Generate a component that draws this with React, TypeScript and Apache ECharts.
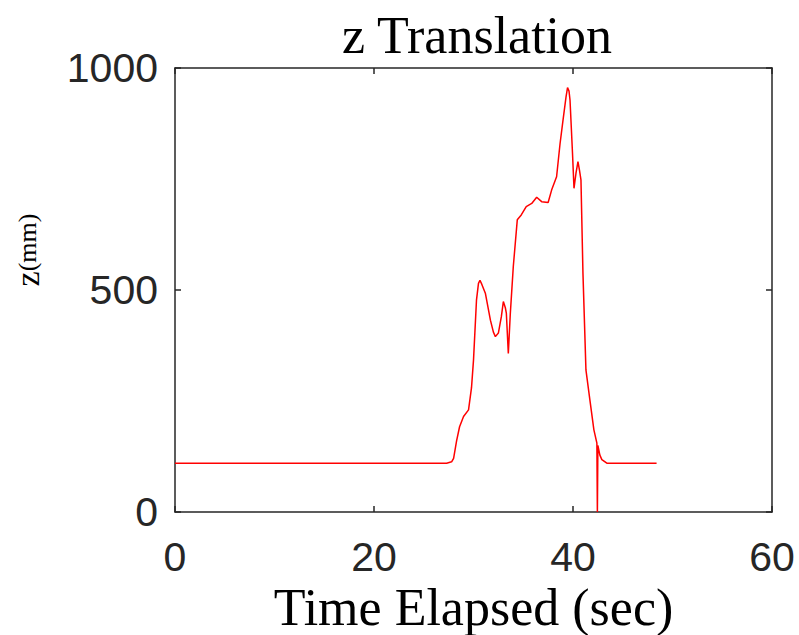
import React, { useEffect, useRef } from "react";
import * as echarts from "echarts";

const times = [0, 27.3, 27.8, 28.0, 28.3, 28.6, 29.0, 29.5, 29.8, 30.0, 30.3, 30.5, 30.65, 30.85, 31.2, 31.7, 32.0, 32.2, 32.5, 32.8, 33.0, 33.2, 33.3, 33.5, 33.7, 34.0, 34.4, 34.8, 35.3, 35.85, 36.35, 36.85, 37.5, 37.85, 38.35, 38.7, 39.0, 39.3, 39.45, 39.6, 39.7, 39.95, 40.1, 40.3, 40.5, 40.65, 40.8, 41.0, 41.3, 41.7, 42.1, 42.4, 42.45, 42.5, 42.7, 42.9, 43.4, 48.4];
const zValues = [110, 110, 113, 121, 160, 192, 215, 230, 280, 342, 477, 515, 522, 512, 492, 432, 405, 395, 403, 440, 474, 460, 448, 357, 447, 553, 658, 669, 688, 695, 709, 699, 697, 725, 755, 830, 883, 935, 956, 948, 928, 808, 729, 763, 789, 770, 748, 538, 320, 252, 185, 155, 0, 150, 128, 118, 110, 110];

const xTicks = { min: 0, max: 60, interval: 20 };
const yTicks = { min: 0, max: 1000, interval: 500 };

const AXIS = "#262626";

export default function App() {
  const ref = useRef<HTMLDivElement>(null);
  useEffect(() => {
    if (!ref.current) return;
    const chart = echarts.init(ref.current, null, { renderer: "svg" });
    const data = times.map((t, i) => [t, zValues[i]]);
    const tickLabel = {
      fontFamily: "Liberation Sans",
      fontSize: 41,
      color: "#262626",
      formatter: (v: number) => String(v),
    };
    const line = { show: true, onZero: false, lineStyle: { color: AXIS, width: 1.5 } };
    const tick = { show: true, inside: true, length: 6, lineStyle: { color: AXIS, width: 1.5 } };
    chart.setOption({
      animation: false,
      backgroundColor: "#ffffff",
      title: {
        text: "z Translation",
        left: 472,
        textAlign: "center",
        top: 4,
        textStyle: { fontFamily: "Liberation Serif", fontSize: 52, fontWeight: "normal", color: "#000" },
      },
      grid: { left: 175, right: 27, top: 68, bottom: 123, containLabel: false, outerBoundsMode: "none" },
      xAxis: [
        {
          type: "value",
          min: xTicks.min,
          max: xTicks.max,
          interval: xTicks.interval,
          position: "bottom",
          name: "Time Elapsed (sec)",
          nameLocation: "middle",
          nameGap: 66,
          nameTextStyle: { fontFamily: "Liberation Serif", fontSize: 52, color: "#000" },
          axisLine: line,
          axisTick: tick,
          axisLabel: { ...tickLabel, margin: 24 },
          splitLine: { show: false },
        },
        {
          type: "value",
          min: xTicks.min,
          max: xTicks.max,
          interval: xTicks.interval,
          position: "top",
          axisLine: line,
          axisTick: tick,
          axisLabel: { show: false },
          splitLine: { show: false },
        },
      ],
      yAxis: [
        {
          type: "value",
          min: yTicks.min,
          max: yTicks.max,
          interval: yTicks.interval,
          position: "left",
          axisLine: line,
          axisTick: tick,
          axisLabel: { ...tickLabel, margin: 17 },
          splitLine: { show: false },
        },
        {
          type: "value",
          min: yTicks.min,
          max: yTicks.max,
          interval: yTicks.interval,
          position: "right",
          axisLine: line,
          axisTick: tick,
          axisLabel: { show: false },
          splitLine: { show: false },
        },
      ],
      graphic: [
        {
          type: "text",
          x: 27,
          y: 250,
          rotation: Math.PI / 2,
          style: {
            text: "{a|z}{b|(mm)}",
            align: "center",
            verticalAlign: "middle",
            rich: {
              a: { fontFamily: "Liberation Serif", fontSize: 34, fill: "#000" },
              b: { fontFamily: "Liberation Serif", fontSize: 26, fill: "#000" },
            },
          },
        },
      ],
      series: [
        {
          type: "line",
          data,
          showSymbol: false,
          symbol: "none",
          lineStyle: { color: "#ff0000", width: 1.5 },
          clip: true,
        },
      ],
    });
    return () => chart.dispose();
  }, []);
  return <div ref={ref} style={{ width: 799, height: 635, position: "absolute", left: 0, top: 0 }} />;
}
